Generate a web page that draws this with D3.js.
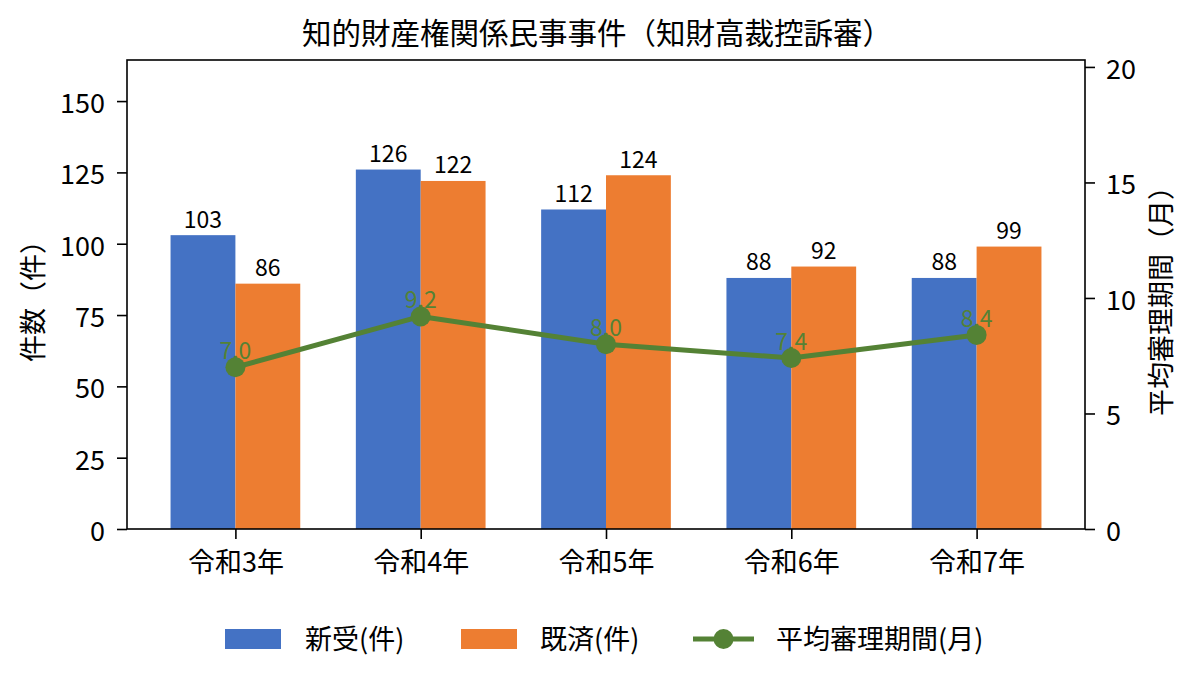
<!DOCTYPE html>
<html><head><meta charset="utf-8">
<script src="https://cdn.jsdelivr.net/npm/d3@7"></script>
<style>
html,body{margin:0;padding:0;background:#fff;}
svg{display:block;font-family:"Noto Sans CJK JP","Noto Sans",sans-serif;}
</style></head>
<body>
<svg id="chart" width="1196" height="687"></svg>
<script>
const categories = ["令和3年","令和4年","令和5年","令和6年","令和7年"];
const newCases = [103,126,112,88,88];
const closedCases = [86,122,124,92,99];
const avgMonths = [7.0,9.2,8.0,7.4,8.4];
const leftTicks = [0,25,50,75,100,125,150];
const rightTicks = [0,5,10,15,20];
const seriesNames = ["新受(件)","既済(件)","平均審理期間(月)"];
const colors = {blue:"#4472C4", orange:"#ED7D31", green:"#548235"};

const svg = d3.select("#chart");
const L=127, R=1085, T=60, B=529;
const x = d3.scaleLinear().domain([-0.585, 4.585]).range([L,R]);
const yL = d3.scaleLinear().domain([0,164.4]).range([B,T]);
const yR = d3.scaleLinear().domain([0,20.3]).range([B,T]);
const bw = 0.35;
const fs = 27, lfs = 23;

const g = svg.append("g");
g.selectAll("rect.new").data(newCases).join("rect").attr("class","new")
  .attr("x",(d,i)=>x(i-bw)).attr("width",x(bw)-x(0))
  .attr("y",d=>yL(d)).attr("height",d=>B-yL(d)).attr("fill",colors.blue);
g.selectAll("rect.closed").data(closedCases).join("rect").attr("class","closed")
  .attr("x",(d,i)=>x(i)).attr("width",x(bw)-x(0))
  .attr("y",d=>yL(d)).attr("height",d=>B-yL(d)).attr("fill",colors.orange);

g.selectAll("text.nl").data(newCases).join("text").attr("class","nl")
  .attr("x",(d,i)=>x(i-bw/2)).attr("y",d=>yL(d)-7.5)
  .attr("text-anchor","middle").attr("font-size",lfs).attr("fill","#000").text(d=>d);
g.selectAll("text.cl").data(closedCases).join("text").attr("class","cl")
  .attr("x",(d,i)=>x(i+bw/2)).attr("y",d=>yL(d)-7.5)
  .attr("text-anchor","middle").attr("font-size",lfs).attr("fill","#000").text(d=>d);

g.selectAll("text.ll").data(avgMonths).join("text").attr("class","ll")
  .attr("x",(d,i)=>x(i)).attr("y",d=>yR(d)-8)
  .attr("text-anchor","middle").attr("font-size",lfs).attr("fill",colors.green).text(d=>d.toFixed(1));

const line = d3.line().x((d,i)=>x(i)).y(d=>yR(d));
g.append("path").datum(avgMonths).attr("d",line).attr("fill","none")
  .attr("stroke",colors.green).attr("stroke-width",5).attr("stroke-linejoin","round");
g.selectAll("circle").data(avgMonths).join("circle")
  .attr("cx",(d,i)=>x(i)).attr("cy",d=>yR(d)).attr("r",10).attr("fill",colors.green);

const axL = svg.append("g").attr("transform",`translate(${L},0)`)
  .call(d3.axisLeft(yL).tickValues(leftTicks).tickSize(10).tickPadding(12));
const axR = svg.append("g").attr("transform",`translate(${R},0)`)
  .call(d3.axisRight(yR).tickValues(rightTicks).tickSize(10).tickPadding(11));
const axB = svg.append("g").attr("transform",`translate(0,${B})`)
  .call(d3.axisBottom(x).tickValues(d3.range(categories.length)).tickFormat(i=>categories[i]).tickSize(10).tickPadding(14));
[axL,axR,axB].forEach(a=>{
  a.select(".domain").remove();
  a.selectAll(".tick line").attr("stroke","#000").attr("stroke-width",1.6);
  a.selectAll(".tick text").attr("font-size",fs).attr("fill","#000").attr("font-family",'"Noto Sans CJK JP",sans-serif');
});
axL.selectAll(".tick text").attr("dy","0.42em");
axR.selectAll(".tick text").attr("dy","0.42em");
svg.append("rect").attr("x",L).attr("y",T).attr("width",R-L).attr("height",B-T)
  .attr("fill","none").attr("stroke","#000").attr("stroke-width",1.6);

svg.append("text").attr("transform",`translate(43,${(T+B)/2}) rotate(-90)`)
  .attr("text-anchor","middle").attr("font-size",fs).attr("fill","#000").text("件数（件）");
svg.append("text").attr("transform",`translate(1171,${(T+B)/2}) rotate(-90)`)
  .attr("text-anchor","middle").attr("font-size",fs).attr("fill","#000").text("平均審理期間（月）");

svg.append("text").attr("x",597).attr("y",44).attr("text-anchor","middle")
  .attr("font-size",29.5).attr("fill","#000").text("知的財産権関係民事事件（知財高裁控訴審）");

const leg = svg.append("g");
const items = [
  {name:seriesNames[0], type:"rect", color:colors.blue, x:225, tx:305},
  {name:seriesNames[1], type:"rect", color:colors.orange, x:461, tx:540},
  {name:seriesNames[2], type:"line", color:colors.green, x:693, tx:776}
];
const ly = 639;
items.forEach(it=>{
  if(it.type==="rect"){
    leg.append("rect").attr("x",it.x).attr("y",ly-10).attr("width",56).attr("height",20).attr("fill",it.color);
  } else {
    leg.append("line").attr("x1",it.x).attr("x2",it.x+61).attr("y1",ly).attr("y2",ly)
      .attr("stroke",it.color).attr("stroke-width",5);
    leg.append("circle").attr("cx",it.x+30.5).attr("cy",ly).attr("r",10).attr("fill",it.color);
  }
  leg.append("text").attr("x",it.tx).attr("y",ly+10).attr("font-size",fs).attr("fill","#000").text(it.name);
});
</script>
</body></html>
